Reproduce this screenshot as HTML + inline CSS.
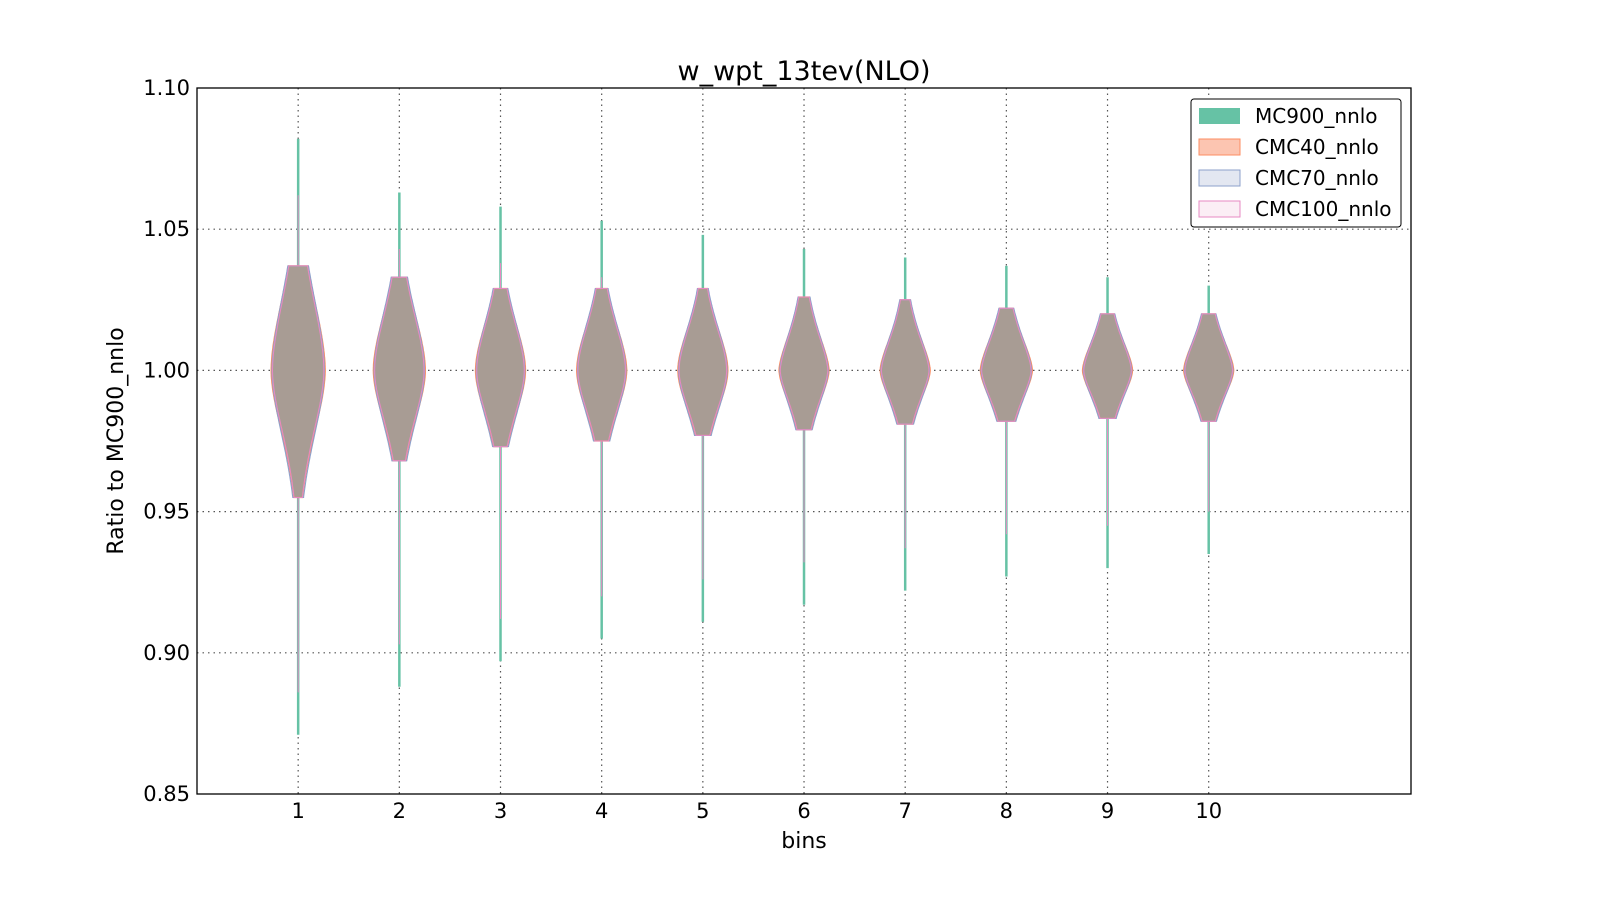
<!DOCTYPE html>
<html><head><meta charset="utf-8"><style>
body{margin:0;background:#fff;width:1600px;height:900px;overflow:hidden;font-family:"Liberation Sans","DejaVu Sans",sans-serif}
svg text{font-family:"DejaVu Sans","Liberation Sans",sans-serif}
</style></head><body>
<svg id="s" width="1600" height="900" xmlns="http://www.w3.org/2000/svg">
<rect width="1600" height="900" fill="#fff"/>
<text x="804" y="80" font-size="27" text-anchor="middle">w_wpt_13tev(NLO)</text>
<g id="grid" stroke="#555" stroke-width="1.2" stroke-dasharray="1.5,4"></g>
<g id="v"></g>
<rect x="197" y="88" width="1214" height="706" fill="none" stroke="#000" stroke-width="1.3"/>
<g id="ticks" font-size="21"></g>
<text x="804" y="848" font-size="22" text-anchor="middle">bins</text>
<text transform="translate(123,441) rotate(-90)" font-size="22" text-anchor="middle">Ratio to MC900_nnlo</text>
<g>
<rect x="1191" y="99" width="210" height="128" rx="3" fill="#fff" stroke="#000" stroke-width="1"/>
<rect x="1199" y="108" width="41" height="16" fill="#66c2a5"/>
<rect x="1199" y="139" width="41" height="16" fill="#fcc5b1" stroke="#fc8d62"/>
<rect x="1199" y="170" width="41" height="16" fill="#e3e7f1" stroke="#8da0cb"/>
<rect x="1199" y="201" width="41" height="16" fill="#fbeef5" stroke="#e78ac3"/>
<g font-size="20"><text x="1255" y="123">MC900_nnlo</text><text x="1255" y="154">CMC40_nnlo</text><text x="1255" y="185">CMC70_nnlo</text><text x="1255" y="216">CMC100_nnlo</text></g>
</g>
</svg>
<script>
const X=i=>197+101.17*i, Y=v=>794-(v-0.85)*2824;
const ns="http://www.w3.org/2000/svg";
function el(p,t,a,txt){const e=document.createElementNS(ns,t);for(const k in a)e.setAttribute(k,a[k]);if(txt!==undefined)e.textContent=txt;document.getElementById(p).appendChild(e);return e;}
for(let i=1;i<=10;i++){el('grid','line',{x1:X(i),x2:X(i),y1:88,y2:794});el('ticks','text',{x:X(i),y:818,'text-anchor':'middle'},String(i));}
[0.9,0.95,1.0,1.05].forEach(v=>el('grid','line',{x1:197,x2:1411,y1:Y(v),y2:Y(v)}));
[[0.85,'0.85'],[0.9,'0.90'],[0.95,'0.95'],[1.0,'1.00'],[1.05,'1.05'],[1.1,'1.10']].forEach(([v,t])=>el('ticks','text',{x:190,y:Y(v)+7,'text-anchor':'end'},t));
const D=[[27,.025,.022,1.037,.955,1.082,.871],[26,.020,.018,1.033,.968,1.063,.888],[25,.017,.016,1.029,.973,1.058,.897],[25,.016,.015,1.029,.975,1.053,.905],[25,.015,.014,1.029,.977,1.048,.911],[25,.013,.012,1.026,.979,1.043,.917],[25,.012,.011,1.025,.981,1.040,.922],[26,.012,.011,1.022,.982,1.037,.927],[25,.011,.010,1.020,.983,1.033,.930],[25,.011,.010,1.020,.982,1.030,.935]];
function shape(cx,W,st,sb,top,bot,k,e){let L=[],R=[];for(let v=top;v>=bot-1e-9;v-=0.0005){const s=v>1?st:sb;let w=W*k*Math.exp(-0.5*Math.pow(Math.abs(v-1)/s,e));w=Math.max(w,1.5);L.push([cx-w,Y(v)]);R.push([cx+w,Y(v)]);}
let pts=L.concat(R.reverse());return 'M'+pts.map(p=>p[0].toFixed(1)+','+p[1].toFixed(1)).join('L')+'Z';}
D.forEach((d,j)=>{const cx=X(j+1);const[W,st,sb,ot,ob,gt,gb]=d;const e=j<5?1.8:1.6;
el('v','line',{x1:cx,x2:cx,y1:Y(gt),y2:Y(gb),stroke:'#66c2a5','stroke-width':2.5});
el('v','line',{x1:cx,x2:cx,y1:Y(gt-0.02),y2:Y(gb+0.015),stroke:'#e78ac3','stroke-width':1});
el('v','path',{d:shape(cx,W,st,sb,ot,ob,1,e),fill:'#a89c94',stroke:'#fc8d62','stroke-width':1.3});
el('v','path',{d:shape(cx,W,st*1.05,sb*1.08,ot,ob,0.97,e),fill:'none',stroke:'#8da0cb','stroke-width':1.1});
el('v','path',{d:shape(cx,W,st,sb,ot,ob,0.95,e),fill:'none',stroke:'#e78ac3','stroke-width':1});
});
</script>
</body></html>
